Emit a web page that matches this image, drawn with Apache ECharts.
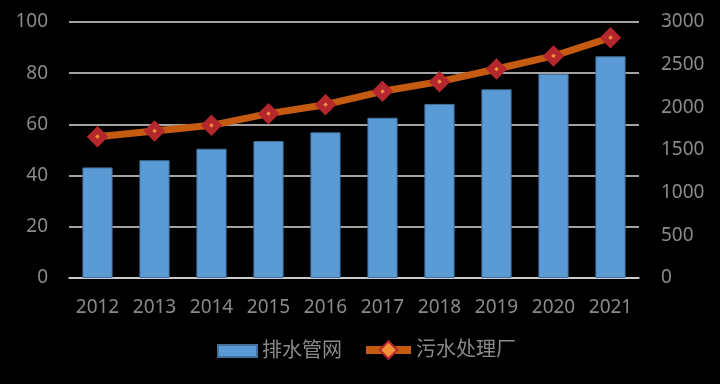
<!DOCTYPE html>
<html><head><meta charset="utf-8">
<script src="https://cdn.jsdelivr.net/npm/echarts@6/dist/echarts.min.js"></script>
<style>html,body{margin:0;padding:0;background:#000;}#c{width:720px;height:384px;}</style>
</head><body><div id="c"></div>
<script>
const categories = ['2012','2013','2014','2015','2016','2017','2018','2019','2020','2021'];
const pipeValues = [43.2, 46.0, 50.5, 53.5, 56.9, 62.6, 68.0, 73.7, 79.7, 86.6];
const plantValues = [1656, 1723, 1789, 1926, 2031, 2188, 2301, 2449, 2602, 2816];
const leftTicks = {min: 0, max: 100, interval: 20};
const rightTicks = {min: 0, max: 3000, interval: 500};
const seriesNames = ['排水管网', '污水处理厂'];

const font = '"Noto Sans", "Noto Sans CJK SC", sans-serif';
const txt = '#8a8a8a';
const chart = echarts.init(document.getElementById('c'));
chart.setOption({
  backgroundColor: '#000',
  animation: false,
  textStyle: {fontFamily: font},
  grid: {left: 69, right: 81, top: 22, bottom: 106},
  legend: [
    {
      left: 217, top: 341, padding: 0, itemWidth: 39, itemHeight: 12, itemGap: 0,
      textStyle: {color: txt, fontSize: 20, fontFamily: font},
      data: [{name: seriesNames[0], icon: 'rect'}]
    },
    {
      left: 362, top: 340, padding: 0, itemWidth: 45, itemHeight: 22, itemGap: 0,
      textStyle: {color: txt, fontSize: 20, fontFamily: font},
      lineStyle: {width: 8},
      data: [{name: seriesNames[1]}]
    }
  ],
  xAxis: {
    type: 'category', data: categories,
    axisLine: {show: true, lineStyle: {color: '#d9d9d9', width: 1.5}},
    axisTick: {show: false},
    axisLabel: {color: txt, fontSize: 19, margin: 20, interval: 0, fontFamily: font}
  },
  yAxis: [
    {type: 'value', min: leftTicks.min, max: leftTicks.max, interval: leftTicks.interval,
     axisLine: {show: false}, axisTick: {show: false},
     axisLabel: {color: txt, fontSize: 19, margin: 21, fontFamily: font},
     splitLine: {lineStyle: {color: '#d9d9d9', width: 1.5}}},
    {type: 'value', min: rightTicks.min, max: rightTicks.max, interval: rightTicks.interval,
     axisLine: {show: false}, axisTick: {show: false},
     axisLabel: {color: txt, fontSize: 19, margin: 22, fontFamily: font,
                 formatter: function (v) { return String(v); }},
     splitLine: {show: false}}
  ],
  series: [
    {name: seriesNames[0], type: 'bar', yAxisIndex: 0, data: pipeValues, barWidth: '53%',
     itemStyle: {color: '#5B9BD5', borderColor: '#41719C', borderWidth: 1}},
    {name: seriesNames[1], type: 'line', yAxisIndex: 1, data: plantValues,
     lineStyle: {color: '#C55A11', width: 7},
     symbol: 'diamond', symbolSize: 13,
     itemStyle: {color: '#F4903A', borderColor: '#B3272D', borderWidth: 6}}
  ]
});
</script></body></html>
